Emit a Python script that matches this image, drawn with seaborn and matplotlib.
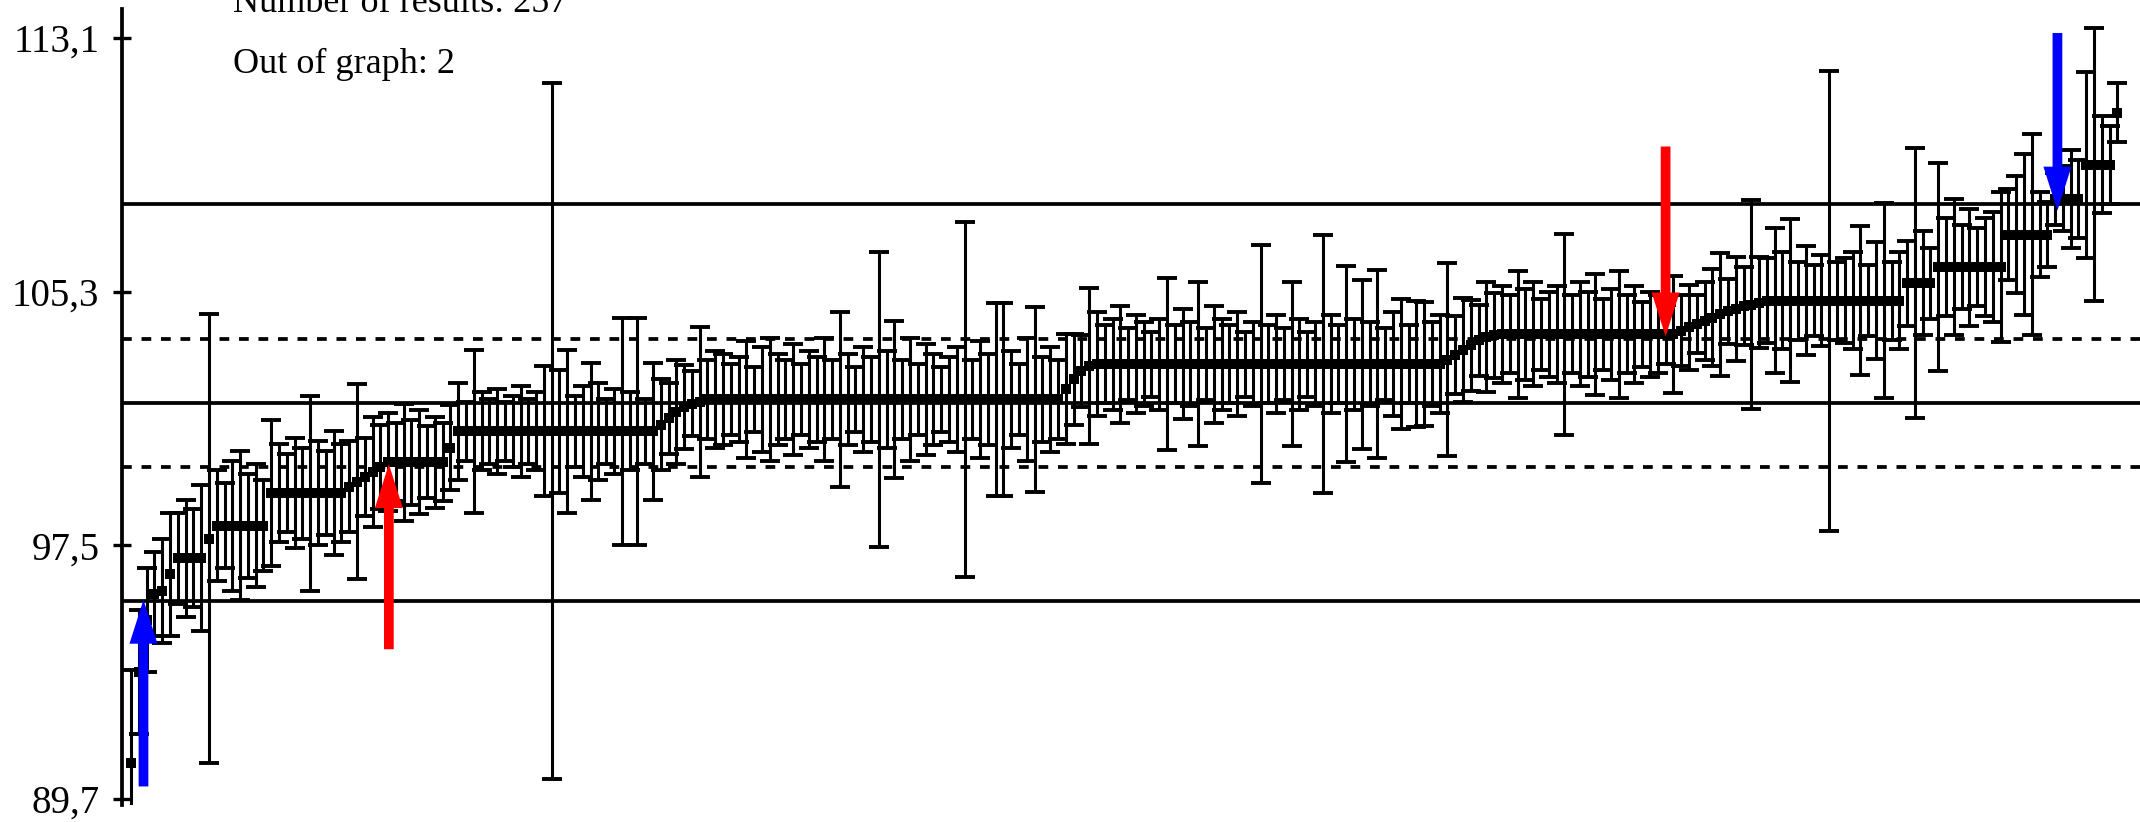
import numpy as np
import pandas as pd
import matplotlib
matplotlib.use("Agg")
import matplotlib.pyplot as plt
import seaborn as sns

# ── data (sorted results, 255 drawn of 257) ──
means = [
    90.8, 93.6, 95.2, 96.0, 96.1, 96.6, 97.1, 97.1, 97.1, 97.1,
    97.7, 98.1, 98.1, 98.1, 98.1, 98.1, 98.1, 98.1, 99.1, 99.1,
    99.1, 99.1, 99.1, 99.1, 99.1, 99.1, 99.1, 99.1, 99.3, 99.45,
    99.6, 99.75, 99.9, 100.05, 100.05, 100.05, 100.05, 100.05, 100.05, 100.05,
    100.05, 100.5, 101.0, 101.0, 101.0, 101.0, 101.0, 101.0, 101.0, 101.0,
    101.0, 101.0, 101.0, 101.0, 101.0, 101.0, 101.0, 101.0, 101.0, 101.0,
    101.0, 101.0, 101.0, 101.0, 101.0, 101.0, 101.0, 101.0, 101.2, 101.4,
    101.6, 101.75, 101.85, 101.9, 101.98, 101.98, 101.98, 101.98, 101.98, 101.98,
    101.98, 101.98, 101.98, 101.98, 101.98, 101.98, 101.98, 101.98, 101.98, 101.98,
    101.98, 101.98, 101.98, 101.98, 101.98, 101.98, 101.98, 101.98, 101.98, 101.98,
    101.98, 101.98, 101.98, 101.98, 101.98, 101.98, 101.98, 101.98, 101.98, 101.98,
    101.98, 101.98, 101.98, 101.98, 101.98, 101.98, 101.98, 101.98, 101.98, 101.98,
    102.3, 102.6, 102.85, 103.0, 103.07, 103.07, 103.07, 103.07, 103.07, 103.07,
    103.07, 103.07, 103.07, 103.07, 103.07, 103.07, 103.07, 103.07, 103.07, 103.07,
    103.07, 103.07, 103.07, 103.07, 103.07, 103.07, 103.07, 103.07, 103.07, 103.07,
    103.07, 103.07, 103.07, 103.07, 103.07, 103.07, 103.07, 103.07, 103.07, 103.07,
    103.07, 103.07, 103.07, 103.07, 103.07, 103.07, 103.07, 103.07, 103.07, 103.2,
    103.35, 103.5, 103.65, 103.8, 103.9, 103.95, 103.98, 103.98, 103.98, 103.98,
    103.98, 103.98, 103.98, 103.98, 103.98, 103.98, 103.98, 103.98, 103.98, 103.98,
    103.98, 103.98, 103.98, 103.98, 103.98, 103.98, 103.98, 103.98, 103.98, 104.1,
    104.2, 104.3, 104.4, 104.5, 104.6, 104.7, 104.75, 104.85, 104.9, 104.95,
    105.02, 105.02, 105.02, 105.02, 105.02, 105.02, 105.02, 105.02, 105.02, 105.02,
    105.02, 105.02, 105.02, 105.02, 105.02, 105.02, 105.02, 105.02, 105.55, 105.55,
    105.55, 105.55, 106.05, 106.05, 106.05, 106.05, 106.05, 106.05, 106.05, 106.05,
    106.05, 107.05, 107.05, 107.05, 107.05, 107.05, 107.05, 108.15, 108.15, 108.15,
    108.15, 109.2, 109.2, 109.2, 109.2, 110.8,
]

half_widths = [
    2.85, 1.9, 1.6, 1.3, 1.6, 1.9, 1.4, 1.8, 1.5, 2.25,
    6.9, 1.7, 1.3, 2.0, 2.3, 1.6, 1.9, 1.4, 2.25, 1.5,
    1.2, 1.7, 1.4, 3.0, 1.6, 1.3, 1.9, 1.5, 1.4, 3.0,
    1.2, 1.7, 1.3, 1.5, 1.2, 1.8, 1.3, 1.6, 1.1, 1.4,
    1.2, 1.3, 1.5, 0.9, 2.5, 1.2, 1.0, 1.3, 0.9, 1.1,
    1.4, 1.0, 1.2, 2.0, 10.7, 1.9, 2.5, 1.1, 1.4, 2.1,
    1.5, 1.0, 1.3, 3.5, 1.2, 3.5, 1.0, 2.1, 1.4, 1.1,
    1.6, 1.3, 1.0, 2.3, 1.2, 1.5, 1.4, 1.1, 1.3, 1.8,
    1.0, 1.6, 1.9, 1.4, 1.2, 1.7, 1.1, 1.5, 1.3, 1.9,
    1.2, 2.7, 1.4, 1.0, 1.6, 1.3, 4.55, 1.5, 2.4, 1.2,
    1.9, 1.1, 1.7, 1.4, 1.0, 1.3, 1.6, 5.45, 1.2, 1.8,
    1.4, 2.97, 2.97, 1.5, 1.1, 1.9, 2.85, 1.3, 1.6, 1.2,
    1.7, 1.4, 1.1, 2.4, 1.6, 1.2, 1.4, 1.8, 1.1, 1.5,
    1.3, 1.0, 1.4, 2.65, 1.2, 1.7, 1.3, 2.53, 1.1, 1.8,
    1.4, 1.2, 1.6, 1.0, 1.3, 3.65, 1.2, 1.5, 1.1, 2.53,
    1.4, 1.0, 1.3, 3.97, 1.5, 1.2, 3.0, 1.4, 2.6, 1.3,
    2.9, 1.1, 1.6, 2.0, 1.2, 1.95, 1.9, 1.3, 1.5, 2.97,
    1.2, 1.6, 1.4, 1.1, 1.7, 1.3, 1.5, 1.2, 1.96, 1.4,
    1.6, 1.1, 1.3, 1.5, 3.1, 1.2, 1.6, 1.3, 1.85, 1.1,
    1.4, 1.96, 1.2, 1.5, 1.0, 1.3, 1.2, 0.9, 1.8, 1.1,
    1.3, 0.9, 1.2, 1.5, 1.9, 1.0, 1.6, 1.2, 3.2, 1.4,
    1.3, 2.23, 1.5, 2.5, 1.2, 1.67, 1.1, 1.4, 7.07, 1.2,
    1.3, 1.5, 2.3, 1.1, 1.8, 3.0, 1.2, 1.5, 1.3, 4.15,
    1.6, 1.1, 3.2, 1.5, 2.1, 1.3, 1.8, 1.2, 1.5, 1.7,
    2.3, 1.4, 1.8, 2.47, 3.1, 1.3, 1.0, 0.8, 1.0, 1.5,
    1.2, 2.86, 4.2, 1.5, 1.2, 0.9,
]

center = 101.88
inner_band = 1.97
outer_band = 6.11

tick_values = [89.7, 97.5, 105.3, 113.1]
tick_labels = ["89,7", "97,5", "105,3", "113,1"]

n_results = 257
n_out = 2

# arrows: x position (result index), tail and tip values
arrow_x = [1.6, 33.1, 197.0, 247.3]
arrow_tail = [90.08, 94.3, 109.76, 113.25]
arrow_tip = [95.82, 99.99, 103.92, 107.79]
arrow_colors = ["#0000FF", "#FF0000", "#FF0000", "#0000FF"]

df = pd.DataFrame({"idx": np.arange(len(means)), "mean": means, "hw": half_widths})

# ── plot ─────────────────────────────────────────────────────
sns.set_style("white")
plt.rcParams["font.family"] = ["Liberation Serif", "DejaVu Serif"]
plt.rcParams["text.color"] = "black"
plt.rcParams["ytick.color"] = "black"
plt.rcParams["ytick.labelcolor"] = "black"

fig = plt.figure(figsize=(21.4, 8.22), dpi=100)
ax = fig.add_axes([0.05715, 0.0207, 1 - 0.05715, 0.968])

for off, ls in [(0, "-"), (outer_band, "-"), (-outer_band, "-"),
                (inner_band, (0, (2.6, 2.6))), (-inner_band, (0, (2.6, 2.6)))]:
    ax.axhline(center + off, color="black", lw=2.7, ls=ls, zorder=1)

ax.errorbar(df["idx"], df["mean"], yerr=df["hw"], fmt="none", ecolor="black",
            elinewidth=2.2, capsize=7.5, capthick=2.8, zorder=2)
sns.scatterplot(data=df, x="idx", y="mean", marker="s", s=58, color="black",
                edgecolor="black", linewidth=0, ax=ax, zorder=3, legend=False)

for x, t0, t1, c in zip(arrow_x, arrow_tail, arrow_tip, arrow_colors):
    ax.arrow(x, t0, 0, t1 - t0, width=1.25, head_width=3.6, head_length=1.35,
             length_includes_head=True, color=c, lw=0, zorder=4)

ax.set_xlim(-1.12, 257.9)
ax.set_ylim(89.51, 113.98)
ax.set_xlabel("")
ax.set_ylabel("")
ax.set_xticks([])
ax.set_yticks(tick_values)
ax.set_yticklabels(tick_labels, fontsize=28, color="black")
ax.tick_params(axis="y", direction="inout", length=13, width=2.4,
               color="black", labelcolor="black", pad=10, left=True)

for side in ["top", "right", "bottom"]:
    ax.spines[side].set_visible(False)
ax.spines["left"].set_linewidth(2.7)
ax.spines["left"].set_color("black")

fig.text(233 / 2140, 1 - 11.7 / 822, f"Number of results: {n_results}",
         fontsize=26, va="baseline", ha="left", color="black")
fig.text(233 / 2140, 1 - 72.7 / 822, f"Out of graph: {n_out}",
         fontsize=26, va="baseline", ha="left", color="black")

plt.savefig("out.png", dpi=100)
